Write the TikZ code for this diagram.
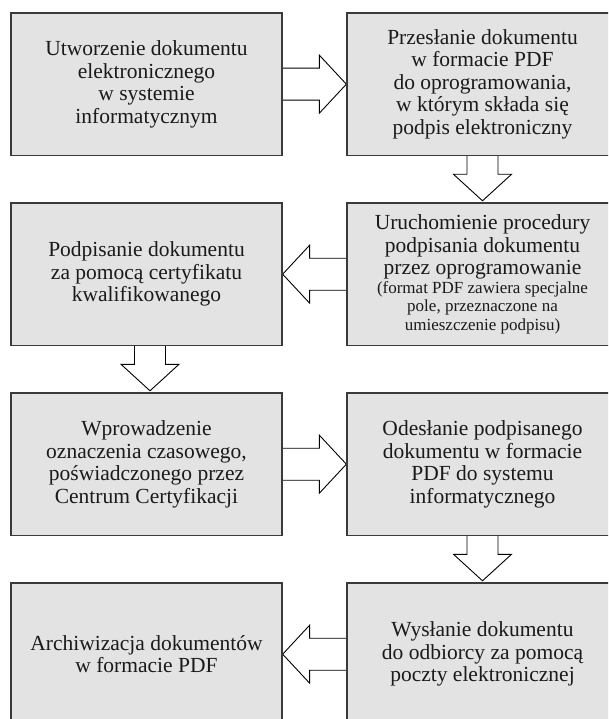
\documentclass[tikz,border=0pt]{standalone}
\usepackage{fontspec}
\setmainfont{Liberation Serif}
\usetikzlibrary{calc,backgrounds}
\definecolor{boxfill}{HTML}{E2E3E2}
\definecolor{boxline}{HTML}{3A3A3A}
\definecolor{ink}{HTML}{1A1A1A}
\newcommand\notesize{\fontsize{17}{18}\selectfont}
\tikzset{
  stepbox/.style={draw=boxline, line width=1.3pt, fill=boxfill,
    minimum width=271pt, minimum height=142.5pt, inner sep=0pt,
    align=center, text=ink, font=\fontsize{21.5}{22.5}\selectfont},
  blockarrow/.style={draw=black, line width=0.9pt, fill=white, line join=miter},
}
% hollow block arrows between boxes
\newcommand\arrowright[2]{%
  \draw[blockarrow] let \p1=(#1.east), \p2=(#2.west) in
    (\x1,\y1+16pt) -- (\x2-27pt,\y1+16pt) -- (\x2-27pt,\y1+29pt) -- (\x2,\y1)
    -- (\x2-27pt,\y1-29pt) -- (\x2-27pt,\y1-16pt) -- (\x1,\y1-16pt);}
\newcommand\arrowleft[2]{%
  \draw[blockarrow] let \p1=(#1.west), \p2=(#2.east) in
    (\x1,\y1+16pt) -- (\x2+27pt,\y1+16pt) -- (\x2+27pt,\y1+29pt) -- (\x2,\y1)
    -- (\x2+27pt,\y1-29pt) -- (\x2+27pt,\y1-16pt) -- (\x1,\y1-16pt);}
\newcommand\arrowdown[3][0pt]{%
  \draw[blockarrow] let \p1=($(#2.south)+(#1,0pt)$), \p2=(#3.north) in
    (\x1-15.5pt,\y1) -- (\x1-15.5pt,\y2+28pt) -- (\x1-29pt,\y2+28pt) -- (\x1,\y2+1.5pt)
    -- (\x1+29pt,\y2+28pt) -- (\x1+15.5pt,\y2+28pt) -- (\x1+15.5pt,\y1);}
\begin{document}
\begin{tikzpicture}[x=1pt,y=-1pt]
  \useasboundingbox (0,0) rectangle (608,719);
  \clip (0,0) rectangle (608,719);

  \node[stepbox] (create)  at (146.5,84.2)  {Utworzenie dokumentu\\ elektronicznego\\ w systemie\\ informatycznym};
  \node[stepbox] (send)    at (482.5,84.2)  {Przesłanie dokumentu\\ w formacie PDF\\ do oprogramowania,\\ w którym składa się\\ podpis elektroniczny};
  \node[stepbox] (launch)  at (482.5,274.2) {Uruchomienie procedury\\ podpisania dokumentu\\ przez oprogramowanie\\[-4pt]
    {\notesize (format PDF zawiera specjalne}\\[-4pt] {\notesize pole, przeznaczone na}\\[-4pt] {\notesize umieszczenie podpisu)}};
  \node[stepbox] (sign)    at (146.5,274.2) {Podpisanie dokumentu\\ za pomocą certyfikatu\\ kwalifikowanego};
  \node[stepbox] (stamp)   at (146.5,464.2) {Wprowadzenie\\ oznaczenia czasowego,\\ poświadczonego przez\\ Centrum Certyfikacji};
  \node[stepbox] (return)  at (482.5,464.2) {Odesłanie podpisanego\\ dokumentu w formacie\\ PDF do systemu\\ informatycznego};
  \node[stepbox] (mail)    at (482.5,654.2) {Wysłanie dokumentu\\ do odbiorcy za pomocą\\ poczty elektronicznej};
  \node[stepbox] (archive) at (146.5,654.2) {Archiwizacja dokumentów\\ w formacie PDF};

  \begin{scope}[on background layer]
    \arrowright{create}{send}
    \arrowdown{send}{launch}
    \arrowleft{launch}{sign}
    \arrowdown[3.5pt]{sign}{stamp}
    \arrowright{stamp}{return}
    \arrowdown{return}{mail}
    \arrowleft{mail}{archive}
  \end{scope}
\end{tikzpicture}
\end{document}
